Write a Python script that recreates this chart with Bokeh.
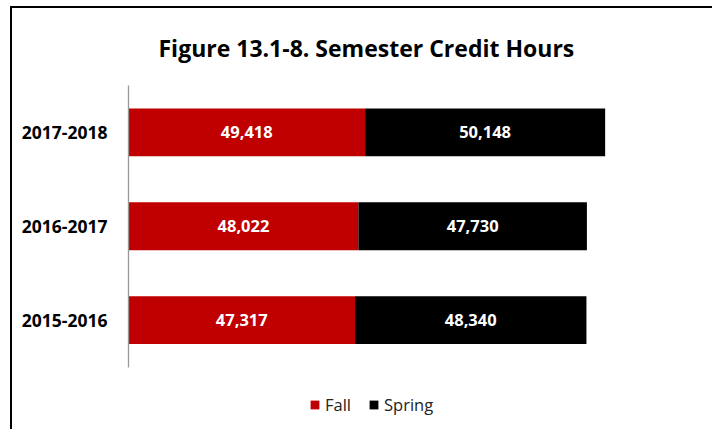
from bokeh.plotting import figure
from bokeh.models import Range1d, ColumnDataSource, Legend, LegendItem, FixedTicker
from bokeh.core.properties import value
from bokeh.embed import file_html
from bokeh.resources import INLINE

years = ["2015-2016", "2016-2017", "2017-2018"]
fall = [47317, 48022, 49418]
spring = [48340, 47730, 50148]
series = ["Fall", "Spring"]
colors = ["#C00000", "#000000"]

pos = list(range(len(years)))
fall_mid = [f / 2 for f in fall]
spring_mid = [f + s / 2 for f, s in zip(fall, spring)]
fall_txt = [f"{f:,}" for f in fall]
spring_txt = [f"{s:,}" for s in spring]

src = ColumnDataSource(dict(pos=pos, Fall=fall, Spring=spring,
                            fmid=fall_mid, smid=spring_mid,
                            ftxt=fall_txt, stxt=spring_txt))

FONT = "Open Sans"

p = figure(width=702, height=423, output_backend="svg", toolbar_location=None,
           y_range=Range1d(-1.187, 2.5), x_range=Range1d(0, 119900),
           x_axis_location=None,
           min_border_left=116, min_border_right=12, min_border_top=74, min_border_bottom=0)
p.styles = {"border-top": "2px solid #000", "border-left": "2px solid #000",
            "margin-top": "6px", "margin-left": "10px"}

r = p.hbar_stack(series, y="pos", height=0.51, color=colors, source=src, line_color=None)

for xcol, tcol in (("fmid", "ftxt"), ("smid", "stxt")):
    p.text(x=xcol, y="pos", text=tcol, source=src, text_color="white",
           text_font=value(FONT), text_font_style="bold", text_font_size="16.5px",
           text_align="center", text_baseline="middle")

p.title.text = "Figure 13.1-8. Semester Credit Hours"
p.title.text_font = FONT
p.title.text_font_style = "bold"
p.title.text_font_size = "23px"
p.title.text_color = "#000000"
p.title.align = "left"
p.title.offset = 30
p.title.standoff = 43

ax = p.yaxis[0]
ax.ticker = FixedTicker(ticks=pos)
ax.major_label_overrides = {i: y for i, y in zip(pos, years)}
ax.bounds = (-0.5, 2.5)
ax.axis_line_color = "#999999"
ax.axis_line_width = 1.3
ax.major_tick_line_color = None
ax.minor_tick_line_color = None
ax.major_label_text_font = FONT
ax.major_label_text_font_style = "bold"
ax.major_label_text_font_size = "17.5px"
ax.major_label_text_color = "#000000"
ax.major_label_standoff = 15

p.xgrid.visible = False
p.ygrid.visible = False
p.outline_line_color = None

legend = Legend(items=[LegendItem(label=s, renderers=[rr]) for s, rr in zip(series, r)],
                orientation="horizontal", location=(181, 15), margin=0, padding=0,
                glyph_width=11, glyph_height=11, label_height=16, label_standoff=5,
                spacing=17, border_line_alpha=0, background_fill_alpha=0,
                label_text_font=FONT, label_text_font_size="16.5px",
                label_text_color="#222222")
p.add_layout(legend, "center")

open("out.html", "w").write(file_html(p, INLINE))
